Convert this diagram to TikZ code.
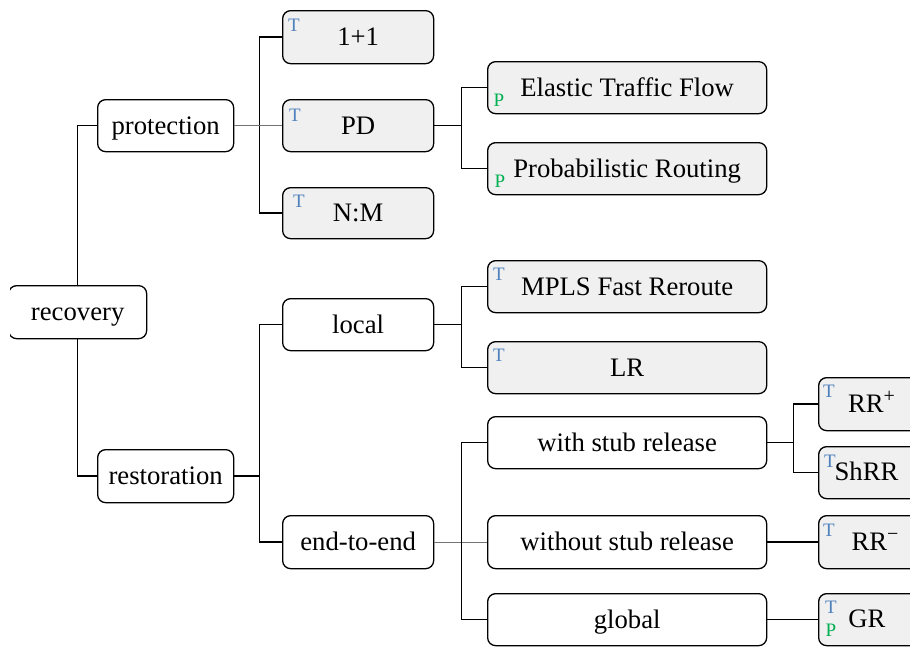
\documentclass[tikz,border=0pt]{standalone}
\usepackage{fontspec}
\setmainfont{Liberation Serif}
\usetikzlibrary{calc}
\definecolor{leafgray}{HTML}{F0F0F0}
\definecolor{tblue}{HTML}{4F81BD}
\definecolor{pgreen}{HTML}{00B050}
% box node from its top-left and bottom-right corners
\newcommand{\bx}[7]{%
  \node[#6, minimum width={(#4-#2)*1pt}, minimum height={(#5-#3)*1pt}] (#1) at (#2,#3) {#7};}
% raised sign after a label
\newcommand{\upsign}[1]{\raisebox{0.36em}{\fontsize{20}{20}\selectfont #1}}
\begin{document}
\begin{tikzpicture}[x=1pt,y=-1pt,
  box/.style={draw=black, line width=1.3pt, rounded corners=8pt, fill=white,
    inner sep=0pt, anchor=north west, text height=19.5pt, text depth=2.5pt,
    font=\fontsize{26.7}{30}\selectfont},
  leaf/.style={box, fill=leafgray},
  lbl/.style={inner sep=0pt, text height=19.5pt, text depth=2.5pt,
    font=\fontsize{26.7}{30}\selectfont},
  wire/.style={line width=1.6pt, draw=black},
  thinwire/.style={line width=1.1pt, draw=black!55},
  tmark/.style={text=tblue, inner sep=0pt, font=\fontsize{19}{20}\selectfont},
  pmark/.style={text=pgreen, inner sep=0pt, font=\fontsize{19}{20}\selectfont}]
\clip (0,0) rectangle (910,646);
\fill[white] (0,0) rectangle (910,646);

% root, open on its left side
\begin{scope}
  \clip (10,0) rectangle (910,646);
  \bx{recovery}{8}{285}{146}{338}{box}{recovery}
\end{scope}

% first level
\bx{protection}{97}{99}{233}{151}{box}{protection}
\bx{restoration}{97}{449}{233}{502}{box}{restoration}

% protection branch
\bx{one}{282}{10}{433}{63}{leaf}{1+1}
\bx{pd}{282}{99}{433}{151}{leaf}{PD}
\bx{nm}{282}{187}{433}{238}{leaf}{N:M}
\bx{etf}{487}{61}{766}{113}{leaf}{Elastic Traffic Flow}
\bx{prr}{487}{142}{766}{194}{leaf}{Probabilistic Routing}

% restoration branch
\bx{local}{282}{298}{433}{350}{box}{local}
\bx{e2e}{282}{515}{433}{568}{box}{end-to-end}
\bx{mpls}{487}{260}{766}{312}{leaf}{MPLS Fast Reroute}
\bx{lr}{487}{341}{766}{393}{leaf}{LR}
\bx{with}{487}{416}{766}{468}{box}{with stub release}
\bx{wo}{487}{515}{766}{568}{box}{without stub release}
\bx{glob}{487}{593}{766}{645}{box}{global}

% rightmost leaves
\bx{rrp}{818}{377}{930}{430}{leaf}{}
\bx{shrr}{818}{446}{930}{498}{leaf}{}
\bx{rrm}{818}{515}{930}{568}{leaf}{}
\bx{gr}{818}{593}{930}{645}{leaf}{}
\node[lbl] (rrp-l) at (871.5,403.5) {RR\upsign{+}};
\node[lbl] (shrr-l) at (866.5,472) {ShRR};
\node[lbl] (rrm-l) at (875,541.5) {RR\upsign{−}};
\node[lbl] (gr-l) at (867,619) {GR};

% technique markers
\node[tmark] (one-t) at ([shift={(12,15)}]one.north west) {T};
\node[tmark] (pd-t) at ([shift={(13,16)}]pd.north west) {T};
\node[tmark] (nm-t) at ([shift={(17,14)}]nm.north west) {T};
\node[pmark] (etf-p) at ([shift={(12,39)}]etf.north west) {P};
\node[pmark] (prr-p) at ([shift={(13,39)}]prr.north west) {P};
\node[tmark] (mpls-t) at ([shift={(12,14)}]mpls.north west) {T};
\node[tmark] (lr-t) at ([shift={(12,14)}]lr.north west) {T};
\node[tmark] (rrp-t) at ([shift={(11,14)}]rrp.north west) {T};
\node[tmark] (shrr-t) at ([shift={(12,15)}]shrr.north west) {T};
\node[tmark] (rrm-t) at ([shift={(11,15)}]rrm.north west) {T};
\node[tmark] (gr-t) at ([shift={(13,14)}]gr.north west) {T};
\node[pmark] (gr-p) at ([shift={(13,37)}]gr.north west) {P};

% junction points, level with the parent's east side
\coordinate (pj) at ($(protection.east)+(25,0)$);
\coordinate (dj) at ($(pd.east)+(27,0)$);
\coordinate (rj) at ($(restoration.east)+(25,0)$);
\coordinate (lj) at ($(local.east)+(27,0)$);
\coordinate (ej) at ($(e2e.east)+(27,0)$);
\coordinate (wj) at ($(with.east)+(26,0)$);

% connectors
\draw[wire] (recovery.north) |- (protection.west);
\draw[wire] (recovery.south) |- (restoration.west);
\draw[wire] (one.west) -| (pj) |- (nm.west);
\draw[thinwire] (protection.east) -- (pd.west);
\draw[wire] (pd.east) -- (dj);
\draw[wire] (etf.west) -| (dj) |- (prr.west);
\draw[wire] (restoration.east) -- (rj);
\draw[wire] (local.west) -| (rj) |- (e2e.west);
\draw[wire] (local.east) -- (lj);
\draw[wire] (mpls.west) -| (lj) |- (lr.west);
\draw[thinwire] (e2e.east) -- (wo.west);
\draw[wire] (with.west) -| (ej) |- (glob.west);
\draw[wire] (with.east) -- (wj);
\draw[wire] (rrp.west) -| (wj) |- (shrr.west);
\draw[wire] (wo.east) -- (rrm.west);
\draw[wire] (glob.east) -- (gr.west);
\end{tikzpicture}
\end{document}
